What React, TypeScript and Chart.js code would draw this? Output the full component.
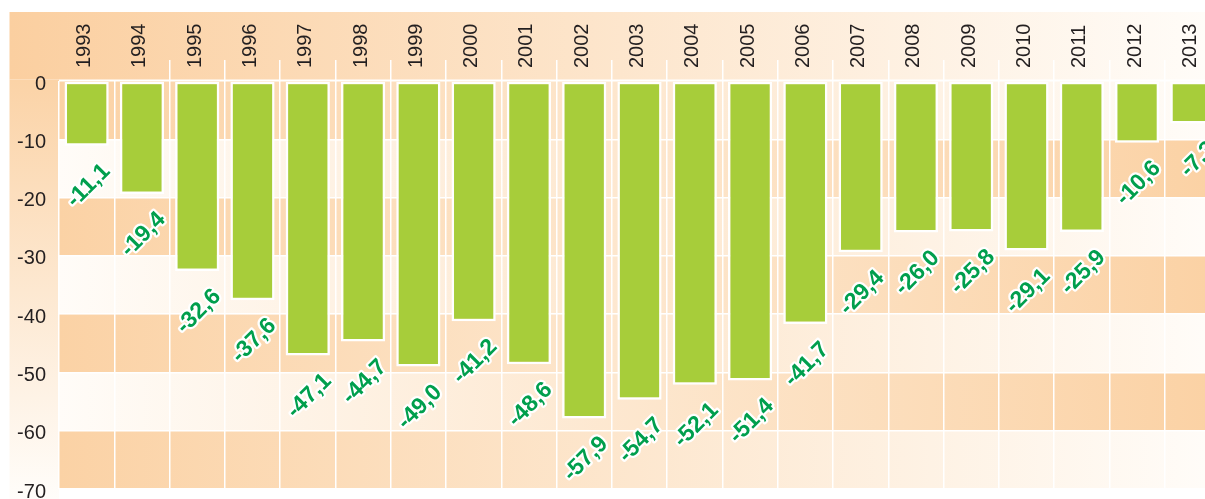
import React, { useEffect, useRef } from 'react';
import { Chart, registerables } from 'chart.js';

Chart.register(...registerables);

const years = ['1993', '1994', '1995', '1996', '1997', '1998', '1999', '2000', '2001', '2002', '2003', '2004', '2005', '2006', '2007', '2008', '2009', '2010', '2011', '2012', '2013'];
const values = [-11.1, -19.4, -32.6, -37.6, -47.1, -44.7, -49.0, -41.2, -48.6, -57.9, -54.7, -52.1, -51.4, -41.7, -29.4, -26.0, -25.8, -29.1, -25.9, -10.6, -7.3];
const yTicks = [0, -10, -20, -30, -40, -50, -60, -70];

const FONT = '"Liberation Sans", Arial, Helvetica, sans-serif';
const BAR_GREEN = '#A7CD3A';
const LABEL_GREEN = '#009F4D';
const TEXT_COLOR = '#231F20';
const ORANGE = 'rgb(251,210,165)';
const LIGHT = 'rgb(255,252,248)';
const VISIBLE_W = 1197;
const VISIBLE_H = 491;

const backgroundPlugin = {
  id: 'bgBands',
  beforeDraw(chart: any) {
    const { ctx, chartArea, scales, height } = chart;
    const y = scales.y;
    ctx.save();
    // header strip
    const hTop = 4;
    const hg = ctx.createLinearGradient(1.5, 0, VISIBLE_W, 0);
    hg.addColorStop(0, 'rgb(251,207,160)');
    hg.addColorStop(1, 'rgb(255,252,248)');
    ctx.fillStyle = hg;
    ctx.fillRect(1.5, hTop, VISIBLE_W + 40, chartArea.top - 1.5 - hTop);
    // left axis column
    const vg = ctx.createLinearGradient(0, chartArea.top, 0, VISIBLE_H);
    vg.addColorStop(0, 'rgb(251,211,167)');
    vg.addColorStop(1, 'rgb(255,253,250)');
    ctx.fillStyle = vg;
    ctx.fillRect(1.5, chartArea.top - 1.5, chartArea.left - 1.5, height - chartArea.top);
    // plot bands
    for (let i = 0; i < yTicks.length - 1; i++) {
      const top = y.getPixelForValue(yTicks[i]);
      const bottom = y.getPixelForValue(yTicks[i + 1]);
      const g = ctx.createLinearGradient(chartArea.left, 0, VISIBLE_W, 0);
      if (i % 2 === 0) {
        g.addColorStop(0, ORANGE);
        g.addColorStop(1, LIGHT);
      } else {
        g.addColorStop(0, LIGHT);
        g.addColorStop(1, ORANGE);
      }
      ctx.fillStyle = g;
      ctx.fillRect(chartArea.left, top, chartArea.right - chartArea.left, bottom - top);
    }
    ctx.restore();
  },
};

const valueLabelPlugin = {
  id: 'valueLabels',
  afterDatasetsDraw(chart: any) {
    const ctx = chart.ctx;
    const meta = chart.getDatasetMeta(0);
    ctx.save();
    ctx.font = `bold 23px ${FONT}`;
    ctx.textAlign = 'right';
    ctx.textBaseline = 'middle';
    ctx.lineJoin = 'round';
    meta.data.forEach((el: any, i: number) => {
      const text = values[i].toFixed(1).replace('.', ',');
      ctx.save();
      ctx.translate(el.x + 20, el.y + 22);
      ctx.rotate(-Math.PI / 4);
      ctx.strokeStyle = '#ffffff';
      ctx.lineWidth = 4.5;
      ctx.strokeText(text, 0, 0);
      ctx.fillStyle = LABEL_GREEN;
      ctx.fillText(text, 0, 0);
      ctx.restore();
    });
    ctx.restore();
  },
};

export default function App() {
  const canvasRef = useRef<HTMLCanvasElement | null>(null);

  useEffect(() => {
    const canvas = canvasRef.current;
    if (!canvas) return;
    const chart = new Chart(canvas, {
      type: 'bar',
      data: {
        labels: years,
        datasets: [
          {
            data: values,
            backgroundColor: BAR_GREEN,
            borderColor: '#ffffff',
            borderWidth: 2.5,
            borderSkipped: false,
            barPercentage: 0.8,
            categoryPercentage: 1,
          },
        ],
      },
      options: {
        responsive: false,
        animation: false,
        devicePixelRatio: 1,
        layout: { padding: { left: 0, right: 18, top: 0, bottom: 19 } },
        plugins: {
          legend: { display: false },
          tooltip: { enabled: false },
        },
        scales: {
          x: {
            position: 'top',
            border: { display: false },
            grid: {
              color: '#ffffff',
              lineWidth: 1.5,
              tickLength: 21,
              offset: true,
              tickColor: (c: any) => (c.index <= 1 ? 'rgba(0,0,0,0)' : '#ffffff'),
            },
            ticks: {
              autoSkip: false,
              minRotation: 90,
              maxRotation: 90,
              padding: -8,
              labelOffset: 22,
              color: TEXT_COLOR,
              font: { family: FONT, size: 20 },
            },
            afterFit: (s: any) => {
              s.height = 73;
              s.paddingLeft = 0;
              s.paddingRight = 0;
            },
          },
          y: {
            min: -70,
            max: 0,
            border: { display: false },
            grid: { color: '#ffffff', lineWidth: 1.5, drawTicks: false },
            ticks: {
              stepSize: 10,
              padding: 13,
              labelOffset: 3,
              color: TEXT_COLOR,
              font: { family: FONT, size: 20 },
            },
            afterFit: (s: any) => {
              s.width = 51;
              s.paddingTop = 0;
              s.paddingBottom = 0;
            },
          },
        },
      },
      plugins: [backgroundPlugin, valueLabelPlugin],
    });
    return () => chart.destroy();
  }, []);

  return (
    <div
      style={{
        position: 'fixed',
        left: 8,
        top: 8,
        width: VISIBLE_W,
        height: VISIBLE_H,
        overflow: 'hidden',
      }}
    >
      <canvas ref={canvasRef} width={1230} height={500} style={{ display: 'block' }} />
    </div>
  );
}
